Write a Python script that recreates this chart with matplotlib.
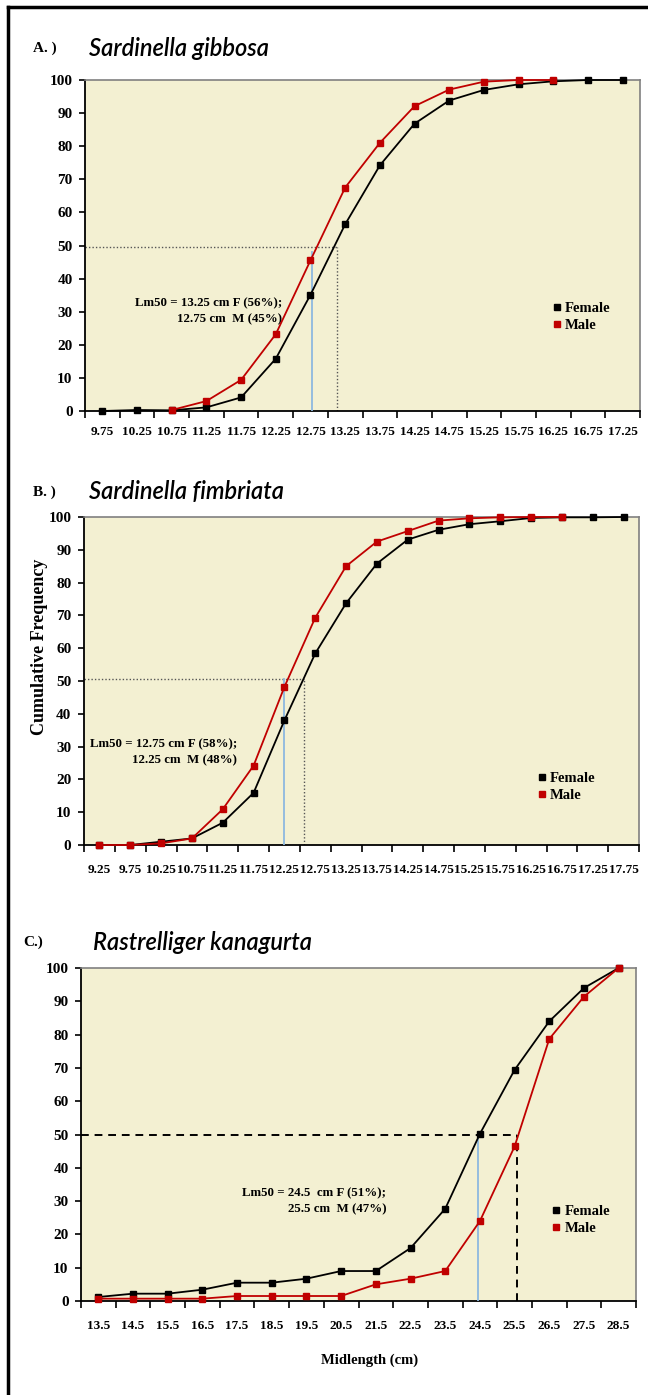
import numpy as np
import matplotlib
matplotlib.use('Agg')
import matplotlib.pyplot as plt
from matplotlib.lines import Line2D

nan = np.nan

# A.) Sardinella gibbosa
a_len = ['9.75', '10.25', '10.75', '11.25', '11.75', '12.25', '12.75', '13.25',
         '13.75', '14.25', '14.75', '15.25', '15.75', '16.25', '16.75', '17.25']
a_female = [0, 0.3, 0.2, 1.1, 4.1, 15.8, 35.1, 56.4, 74.2, 86.8, 93.8, 97.0, 98.7, 99.6, 100, 100]
a_male = [nan, nan, 0.3, 3.0, 9.4, 23.2, 45.5, 67.5, 81.0, 92.1, 97.1, 99.5, 100, 100, nan, nan]

# B.) Sardinella fimbriata
b_len = ['9.25', '9.75', '10.25', '10.75', '11.25', '11.75', '12.25', '12.75', '13.25',
         '13.75', '14.25', '14.75', '15.25', '15.75', '16.25', '16.75', '17.25', '17.75']
b_female = [0, 0, 1.0, 2.0, 6.8, 15.9, 38.0, 58.4, 73.7, 85.8, 93.1, 96.1, 97.8, 98.7, 99.7, 99.9, 99.9, 100]
b_male = [0, 0, 0.5, 2.0, 10.9, 24.2, 48.2, 69.3, 85.0, 92.5, 95.7, 98.9, 99.6, 99.9, 100, 100, nan, nan]

# C.) Rastrelliger kanagurta
c_len = ['13.5', '14.5', '15.5', '16.5', '17.5', '18.5', '19.5', '20.5',
         '21.5', '22.5', '23.5', '24.5', '25.5', '26.5', '27.5', '28.5']
c_female = [1.2, 2.2, 2.2, 3.4, 5.5, 5.5, 6.7, 9.0, 9.0, 15.9, 27.7, 50.2, 69.4, 84.0, 94.0, 100]
c_male = [0.7, 0.7, 0.7, 0.7, 1.5, 1.5, 1.5, 1.5, 5.0, 6.7, 9.0, 24.0, 46.4, 78.7, 91.4, 100]

# Lm50 guide lines (category position, level)
a_lm50_f, a_lm50_m, a_level, a_mtop = 6.76, 6.03, 49.6, 48
b_lm50_f, b_lm50_m, b_level, b_mtop = 6.62, 6.0, 50.5, 50.5
c_lm50_f, c_lm50_m, c_level, c_mtop = 12.08, 10.95, 50, 50

a_note = 'Lm50 = 13.25 cm F (56%);\n12.75 cm  M (45%)'
b_note = 'Lm50 = 12.75 cm F (58%);\n12.25 cm  M (48%)'
c_note = 'Lm50 = 24.5  cm F (51%);\n25.5 cm  M (47%)'

W, H = 648, 1395
SERIF = 'Liberation Serif'
BG = '#F3F0D2'
RED = '#C00000'

fig = plt.figure(figsize=(W / 100, H / 100), dpi=100)
fig.patch.set_facecolor('white')


def px_axes(x0, y0, x1, y1):
    return fig.add_axes([x0 / W, 1 - y1 / H, (x1 - x0) / W, (y1 - y0) / H])


def panel(ax, labels, female, male, lm_f, lm_m, level, mtop, style, note, note_xy, leg_xy, pad):
    n = len(labels)
    x = np.arange(n)
    ax.set_facecolor(BG)
    ax.plot(x, female, color='black', lw=1.3, marker='s', ms=4.3, clip_on=False, zorder=4, label='Female')
    ax.plot(x, male, color=RED, lw=1.3, marker='s', ms=4.3, clip_on=False, zorder=5, label='Male')
    if style == 'dot':
        ls, col, lw = (0, (1, 1.5)), '#555555', 1.0
    else:
        ls, col, lw = (0, (4, 3)), 'black', 1.4
    ax.plot([-0.5, lm_f], [level, level], ls=ls, color=col, lw=lw, zorder=2)
    ax.plot([lm_f, lm_f], [0, level], ls=ls, color=col, lw=lw, zorder=2)
    ax.plot([lm_m, lm_m], [0, mtop], color='#8DB8E0', lw=1.3, zorder=3)
    ax.set_xlim(-0.5, n - 0.5)
    ax.set_ylim(0, 100)
    ax.set_xticks(x)
    ax.set_xticklabels(labels, fontfamily=SERIF, fontweight='bold', fontsize=9.5)
    ax.set_xticks(np.arange(n + 1) - 0.5, minor=True)
    ax.set_yticks(np.arange(0, 101, 10))
    ax.set_yticklabels([str(v) for v in range(0, 101, 10)], fontfamily=SERIF, fontweight='bold', fontsize=11)
    ax.tick_params(axis='x', which='major', length=0, pad=pad)
    ax.tick_params(axis='x', which='minor', length=5, width=1.2, direction='out')
    ax.tick_params(axis='y', length=4, width=1.2, direction='out', pad=5)
    for s in ['top', 'right']:
        ax.spines[s].set_color('#808080')
        ax.spines[s].set_linewidth(1.2)
    for s in ['left', 'bottom']:
        ax.spines[s].set_color('black')
        ax.spines[s].set_linewidth(1.3)
    ax.text(note_xy[0], note_xy[1], note, transform=ax.transAxes, ha='right', va='center',
            multialignment='right', fontfamily=SERIF, fontweight='bold', fontsize=9.3, linespacing=1.45)
    handles = [Line2D([], [], color='black', marker='s', ms=4, ls='none'),
               Line2D([], [], color=RED, marker='s', ms=4, ls='none')]
    ax.legend(handles, ['Female', 'Male'], loc='center left', bbox_to_anchor=leg_xy, frameon=False,
              handlelength=0.5, handletextpad=0.3, borderpad=0, borderaxespad=0, labelspacing=0.25,
              prop={'family': SERIF, 'weight': 'bold', 'size': 10.5})


axA = px_axes(85, 80, 640, 411)
panel(axA, a_len, a_female, a_male, a_lm50_f, a_lm50_m, a_level, a_mtop, 'dot', a_note,
      (0.355, 0.302), (0.843, 0.284), 11)

axB = px_axes(84, 517, 639, 845)
panel(axB, b_len, b_female, b_male, b_lm50_f, b_lm50_m, b_level, b_mtop, 'dot', b_note,
      (0.276, 0.282), (0.818, 0.177), 14)

axC = px_axes(81, 968, 636, 1301)
panel(axC, c_len, c_female, c_male, c_lm50_f, c_lm50_m, c_level, c_mtop, 'dash', c_note,
      (0.55, 0.30), (0.85, 0.243), 14)

# panel headings
heads = [('A. )', 'Sardinella gibbosa', 33, 89, 48),
         ('B. )', 'Sardinella fimbriata', 33, 89, 492),
         ('C.)', 'Rastrelliger kanagurta', 23, 93, 942)]
for tag, name, xt, xn, yy in heads:
    fig.text(xt / W, 1 - yy / H, tag, fontfamily=SERIF, fontweight='bold', fontsize=11, va='center')
    fig.text(xn / W, 1 - yy / H, name, fontfamily=['Lato', 'Liberation Sans'], style='italic',
             fontweight='semibold', fontsize=17, va='center')

fig.text(40 / W, 1 - 647 / H, 'Cumulative Frequency', rotation=90, ha='center', va='center',
         fontfamily=SERIF, fontweight='bold', fontsize=13)
fig.text(370 / W, 1 - 1360 / H, 'Midlength (cm)', ha='center', va='center',
         fontfamily=SERIF, fontweight='bold', fontsize=10.5)

# frame around the figure
fig.add_artist(Line2D([8 / W, 8 / W], [0, 1 - 7 / H], color='black', lw=2.5, transform=fig.transFigure))
fig.add_artist(Line2D([8 / W, 1], [1 - 7 / H, 1 - 7 / H], color='black', lw=2.5, transform=fig.transFigure))

fig.savefig('out.png', dpi=100)
